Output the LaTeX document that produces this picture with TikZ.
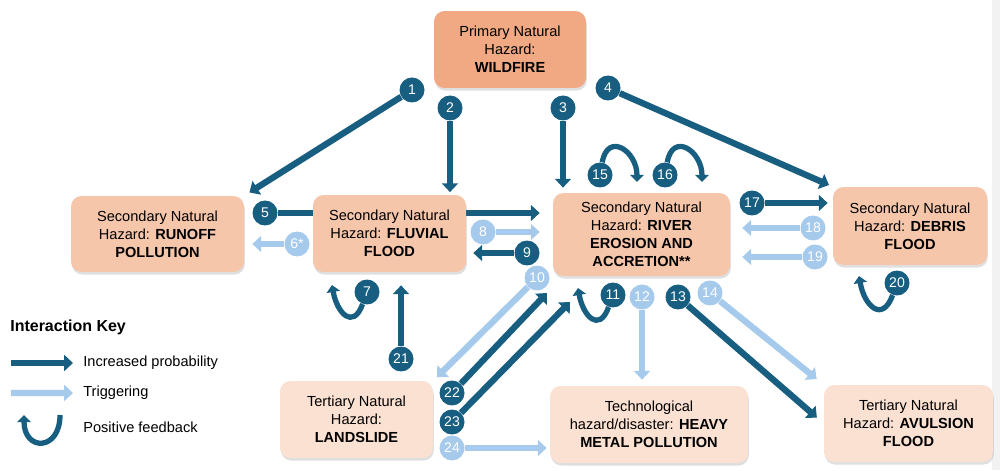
\documentclass[tikz,border=0pt]{standalone}
\usepackage{fontspec}
\setmainfont{Liberation Sans}
\definecolor{riverblue}{RGB}{24,94,128}
\definecolor{skyblue}{RGB}{166,202,236}
\definecolor{firepeach}{RGB}{241,169,131}
\definecolor{secpeach}{RGB}{246,198,171}
\definecolor{terpeach}{RGB}{251,225,210}
\usetikzlibrary{arrows.meta, shadows, backgrounds, positioning}

\begin{document}
\begin{tikzpicture}[x=0.02cm, y=0.02cm,
    hazard/.style={rounded corners=6pt, inner sep=2pt, align=center,
                   font=\fontsize{8.3}{10.2}\selectfont,
                   drop shadow={opacity=0.25, shadow xshift=0.5pt, shadow yshift=-1.5pt}},
    num/.style={circle, inner sep=0pt, minimum size=0.5cm, text=white,
                font=\fontsize{8}{8}\selectfont},
    numd/.style={num, fill=riverblue},
    numl/.style={num, fill=skyblue},
    incr/.style={-{Triangle[length=5pt, width=9pt]}, line width=3.6pt, riverblue},
    trig/.style={-{Triangle[length=5pt, width=9pt]}, line width=3.6pt, skyblue},
    feed/.style={-{Triangle[length=4pt, width=7.5pt]}, line width=3pt, riverblue},
    keytext/.style={inner sep=0pt, font=\fontsize{8.3}{10}\selectfont}
  ]
  \useasboundingbox (0,0) rectangle (1000,470);
  \fill[gray!10] (992,0) rectangle (1000,470);

  % hazards
  \node[hazard, fill=firepeach, minimum width=3.04cm, minimum height=1.54cm]
    (wild) at (510,420.5) {Primary Natural\\Hazard:\\\textbf{WILDFIRE}};
  \node[hazard, fill=secpeach, minimum width=3.46cm, minimum height=1.52cm]
    (runoff) at (157.5,236) {Secondary Natural\\Hazard: \textbf{RUNOFF}\\\textbf{POLLUTION}};
  \node[hazard, fill=secpeach, minimum width=3.06cm, minimum height=1.54cm]
    (fluvial) at (389.5,236.5) {Secondary Natural\\Hazard: \textbf{FLUVIAL}\\\textbf{FLOOD}};
  \node[hazard, fill=secpeach, minimum width=3.54cm, minimum height=1.66cm]
    (river) at (641.5,235.5) {Secondary Natural\\Hazard: \textbf{RIVER}\\\textbf{EROSION AND}\\\textbf{ACCRETION**}};
  \node[hazard, fill=secpeach, minimum width=3.08cm, minimum height=1.56cm]
    (debris) at (910,244) {Secondary Natural\\Hazard: \textbf{DEBRIS}\\\textbf{FLOOD}};
  \node[hazard, fill=terpeach, minimum width=3.06cm, minimum height=1.54cm]
    (landslide) at (356.5,50.5) {Tertiary Natural\\Hazard:\\\textbf{LANDSLIDE}};
  \node[hazard, fill=terpeach, minimum width=3.96cm, minimum height=1.54cm]
    (metal) at (649,45.5) {Technological\\hazard/disaster: \textbf{HEAVY}\\\textbf{METAL POLLUTION}};
  \node[hazard, fill=terpeach, minimum width=3.38cm, minimum height=1.54cm]
    (avulsion) at (908.5,46.5) {Tertiary Natural\\Hazard: \textbf{AVULSION}\\\textbf{FLOOD}};

  % interaction numbers
  \node[numd] (c1) at (412,380) {1};
  \node[numd] (c2) at (450,362) {2};
  \node[numd] (c3) at (563,362) {3};
  \node[numd] (c4) at (608,382) {4};
  \node[numd] (c5) at (265,257) {5};
  \node[numl] (c6) at (297,226) {6*};
  \node[numd] (c7) at (367,178) {7};
  \node[numl] (c8) at (483,238) {8};
  \node[numd] (c9) at (527,217) {9};
  \node[numl] (c10) at (537,192) {10};
  \node[numd] (c11) at (613,175) {11};
  \node[numl] (c12) at (642,173) {12};
  \node[numd] (c13) at (678,173) {13};
  \node[numl] (c14) at (710,177) {14};
  \node[numd] (c15) at (600,295) {15};
  \node[numd] (c16) at (665,295) {16};
  \node[numd] (c17) at (752,267) {17};
  \node[numl] (c18) at (813,242) {18};
  \node[numl] (c19) at (815,213) {19};
  \node[numd] (c20) at (897,187) {20};
  \node[numd] (c21) at (401,111) {21};
  \node[numd] (c22) at (452,77) {22};
  \node[numd] (c23) at (452,48) {23};
  \node[numl] (c24) at (452,22) {24};
  \coordinate (t22) at (547,177);
  \coordinate (t23) at (570,168);

  % key
  \node[anchor=west, inner sep=0pt, font=\fontsize{9.1}{11}\selectfont\bfseries]
    (keytitle) at (10,143) {Interaction Key};
  \node[keytext, anchor=west] (kinc) at (83,107) {Increased probability};
  \node[keytext, below=0.6cm of kinc.west, anchor=west] (ktrig) {Triggering};
  \node[keytext, below=0.68cm of ktrig.west, anchor=west] (kfeed) {Positive feedback};
  \coordinate (kincs) at (11,107);
  \coordinate (ktrigs) at (11,77);
  \coordinate (kfeeds) at (60,55);

  \begin{scope}[on background layer]
    \draw[incr, shorten >=0.12cm] (c1) -- (runoff.north east);
    \draw[incr, shorten >=0.05cm] (c2) -- (c2 |- fluvial.north);
    \draw[incr, shorten >=0.1cm] (c3) -- (c3 |- river.north);
    \draw[incr, shorten >=0.08cm] (c4) -- (debris.north west);
    \draw[incr, shorten >=0.26cm] (c5) -- (c5 -| river.west);
    \draw[trig, shorten >=0.16cm] (c6) -- (c6 -| runoff.east);
    \draw[feed] (c7) to[out=-110, in=-80, looseness=2] ++(-35,7);
    \draw[trig, shorten >=0.26cm] (c8) -- (c8 -| river.west);
    \draw[incr, shorten >=0.14cm] (c9) -- (c9 -| fluvial.east);
    \draw[trig, shorten >=0.1cm] (c10) -- (landslide.north east);
    \draw[feed] (c11) to[out=-110, in=-80, looseness=2] ++(-35,7);
    \draw[trig, shorten >=0.12cm] (c12) -- (c12 |- metal.north);
    \draw[incr, shorten >=0.18cm] (c13) -- (avulsion.west);
    \draw[trig, shorten >=0.18cm] (c14) -- (avulsion.north west);
    \draw[feed] (c15) to[out=80, in=90, looseness=2] ++(37,-7);
    \draw[feed] (c16) to[out=80, in=90, looseness=2] ++(37,-7);
    \draw[incr, shorten >=0.1cm] (c17) -- (c17 -| debris.west);
    \draw[trig, shorten >=0.24cm] (c18) -- (c18 -| river.east);
    \draw[trig, shorten >=0.24cm] (c19) -- (c19 -| river.east);
    \draw[feed] (c20) to[out=-110, in=-80, looseness=2] ++(-38,7);
    \draw[incr, shorten >=0.26cm] (c21) -- (c21 |- fluvial.south);
    \draw[incr] (c22) -- (t22);
    \draw[incr] (c23) -- (t23);
    \draw[trig, shorten >=0.06cm] (c24) -- (c24 -| metal.west);
    % key arrows
    \draw[incr, shorten >=0.2cm] (kincs) -- (kinc.west);
    \draw[trig, shorten >=0.2cm] (ktrigs) -- (ktrig.west);
    \draw[feed] (kfeeds) to[out=-90, in=-90, looseness=2.6] ++(-36,0);
  \end{scope}
\end{tikzpicture}
\end{document}
